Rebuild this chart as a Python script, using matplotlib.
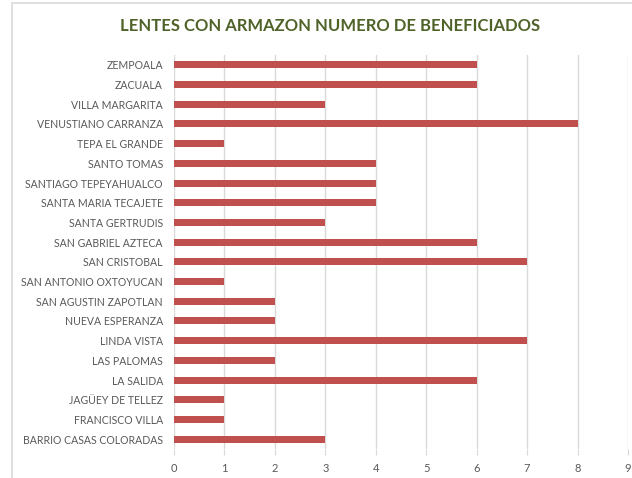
import matplotlib
matplotlib.use("Agg")
import matplotlib.pyplot as plt
from matplotlib.patches import Rectangle

# Datos (de arriba hacia abajo, como en el grafico)
localidades = [
    "ZEMPOALA", "ZACUALA", "VILLA MARGARITA", "VENUSTIANO CARRANZA",
    "TEPA EL GRANDE", "SANTO TOMAS", "SANTIAGO TEPEYAHUALCO",
    "SANTA MARIA TECAJETE", "SANTA GERTRUDIS", "SAN GABRIEL AZTECA",
    "SAN CRISTOBAL", "SAN ANTONIO OXTOYUCAN", "SAN AGUSTIN ZAPOTLAN",
    "NUEVA ESPERANZA", "LINDA VISTA", "LAS PALOMAS", "LA SALIDA",
    "JAGÜEY DE TELLEZ", "FRANCISCO VILLA", "BARRIO CASAS COLORADAS",
]
beneficiados = [6, 6, 3, 8, 1, 4, 4, 4, 3, 6, 7, 1, 2, 2, 7, 2, 6, 1, 1, 3]
x_ticks = list(range(0, 10))

plt.rcParams['font.family'] = ['Lato', 'DejaVu Sans']

W, H = 632, 478
fig = plt.figure(figsize=(W / 100, H / 100), dpi=100)

# borde del area del grafico
fig.patches.append(Rectangle((12 / W, -0.1), 1.2, 1 - 3 / H + 0.1,
                             transform=fig.transFigure, fill=False,
                             edgecolor='#D9D9D9', linewidth=1.2))

ax = fig.add_axes([174 / W, 1 - 449 / H, (628 - 174) / W, (449 - 55) / H])

pos = list(range(len(localidades)))
ax.barh(pos, beneficiados, height=0.36, color='#C0504D', zorder=3)

ax.set_ylim(len(localidades) - 0.5, -0.5)
ax.set_yticks(pos)
ax.set_yticklabels(localidades)
ax.set_xlim(0, 9)
ax.set_xticks(x_ticks)

ax.grid(axis='x', color='#D9D9D9', linewidth=1, zorder=0)
for s in ax.spines.values():
    s.set_visible(False)
ax.tick_params(axis='y', length=0, pad=8, labelsize=7.6, labelcolor='#595959')
ax.tick_params(axis='x', length=4, color='#D9D9D9', pad=6, labelsize=8,
               labelcolor='#595959')

fig.text(330 / W, 1 - 26 / H, "LENTES CON ARMAZON NUMERO DE BENEFICIADOS",
         ha='center', va='center', fontsize=12, fontweight='bold',
         color='#4F6228')

fig.savefig("out.png", dpi=100)
